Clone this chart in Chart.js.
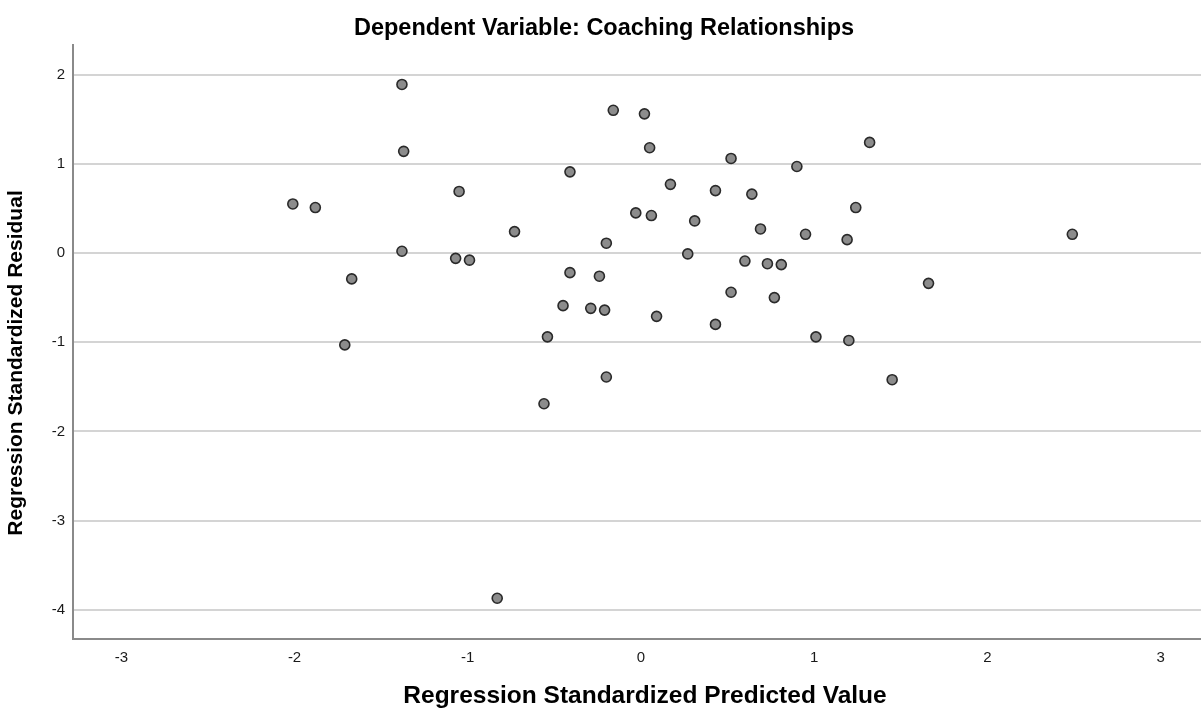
<!DOCTYPE html>
<html>
<head>
<meta charset="utf-8">
<script src="https://cdn.jsdelivr.net/npm/chart.js@4/dist/chart.umd.min.js"></script>
<style>
  html, body { margin: 0; padding: 0; background: #ffffff; }
  #wrap { width: 1201px; height: 711px; }
</style>
</head>
<body>
<div id="wrap"><canvas id="chart" width="1201" height="711"></canvas></div>
<script>
/* ── DATA ── */
const chartTitle = 'Dependent Variable: Coaching Relationships';
const xTitle     = 'Regression Standardized Predicted Value';
const yTitle     = 'Regression Standardized Residual';

const xTicks = [-3, -2, -1, 0, 1, 2, 3];
const yTicks = [-4, -3, -2, -1, 0, 1, 2];

const predicted = [
  -2.01, -1.88, -1.38, -1.37, -1.38, -1.67, -1.71, -1.05, -1.07, -0.99,
  -0.73, -0.41, -0.16,  0.02,  0.05, -0.20, -0.41, -0.24, -0.45, -0.29,
  -0.21, -0.54, -0.20, -0.56, -0.83, -0.03,  0.06,  0.17,  0.31,  0.27,
   0.43,  0.52,  0.64,  0.69,  0.09,  0.43,  0.52,  0.60,  0.73,  0.81,
   0.77,  0.90,  0.95,  1.19,  1.24,  1.32,  1.01,  1.20,  1.45,  1.66,
   2.49
];
const residual = [
   0.55,  0.51,  1.89,  1.14,  0.02, -0.29, -1.03,  0.69, -0.06, -0.08,
   0.24,  0.91,  1.60,  1.56,  1.18,  0.11, -0.22, -0.26, -0.59, -0.62,
  -0.64, -0.94, -1.39, -1.69, -3.87,  0.45,  0.42,  0.77,  0.36, -0.01,
   0.70,  1.06,  0.66,  0.27, -0.71, -0.80, -0.44, -0.09, -0.12, -0.13,
  -0.50,  0.97,  0.21,  0.15,  0.51,  1.24, -0.94, -0.98, -1.42, -0.34,
   0.21
];

/* ── STYLE ── */
const FONT = "'Liberation Sans', Arial, sans-serif";
const TEXT = '#1a1a1a';

/* titles drawn by hand so they sit where SPSS put them */
const titlePlugin = {
  id: 'spssTitles',
  afterDraw(chart) {
    const ctx = chart.ctx;
    ctx.save();
    ctx.fillStyle = '#000000';
    ctx.textAlign = 'center';
    ctx.textBaseline = 'middle';

    ctx.font = 'bold 23.5px ' + FONT;
    ctx.fillText(chartTitle, 604, 29);

    ctx.font = 'bold 24.5px ' + FONT;
    ctx.fillText(xTitle, 645, 696);

    ctx.translate(16, 363);
    ctx.rotate(-Math.PI / 2);
    ctx.font = 'bold 21px ' + FONT;
    ctx.fillText(yTitle, 0, 0);
    ctx.restore();
  }
};

const points = predicted.map((x, i) => ({ x: x, y: residual[i] }));

new Chart(document.getElementById('chart'), {
  type: 'scatter',
  data: {
    datasets: [{
      data: points,
      backgroundColor: '#8c8c8c',
      borderColor: '#2a2a2a',
      borderWidth: 1.6,
      pointRadius: 5,
      pointHoverRadius: 5
    }]
  },
  options: {
    responsive: false,
    animation: false,
    devicePixelRatio: 1,
    layout: { autoPadding: false, padding: { top: 45, right: 0, bottom: 0, left: 0 } },
    plugins: {
      legend: { display: false },
      tooltip: { enabled: false }
    },
    scales: {
      x: {
        type: 'linear',
        min: -3.279,
        max: 3.233,
        afterFit: s => { s.height = 72; s.paddingLeft = 0; s.paddingRight = 0; },
        afterBuildTicks: s => { s.ticks = xTicks.map(v => ({ value: v })); },
        grid: { display: false, drawTicks: false },
        border: { display: true, color: '#8a8a8a', width: 2 },
        ticks: { color: TEXT, font: { family: FONT, size: 15 }, padding: 10, maxRotation: 0 }
      },
      y: {
        type: 'linear',
        min: -4.327,
        max: 2.332,
        afterFit: s => { s.width = 73; s.paddingTop = 0; s.paddingBottom = 0; },
        afterBuildTicks: s => { s.ticks = yTicks.map(v => ({ value: v })); },
        grid: { color: '#d4d4d4', lineWidth: 2, drawTicks: false },
        border: { display: true, color: '#8a8a8a', width: 2 },
        ticks: { color: TEXT, font: { family: FONT, size: 15 }, padding: 8 }
      }
    }
  },
  plugins: [titlePlugin]
});
</script>
</body>
</html>
